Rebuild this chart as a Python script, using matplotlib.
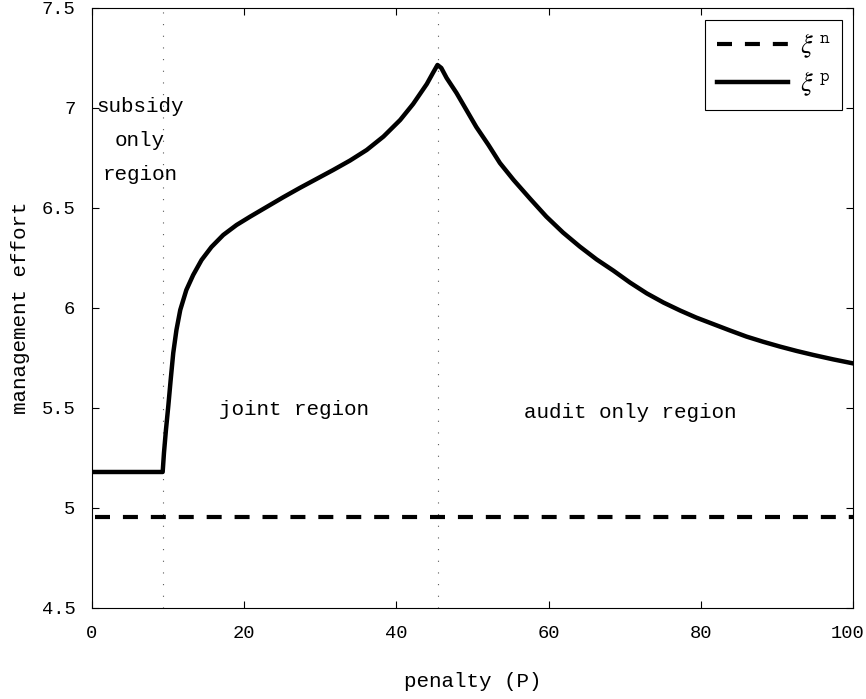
import matplotlib
matplotlib.use('Agg')
from matplotlib import pyplot as plt
import matplotlib.transforms as mtransforms
import numpy as np

# data
penalty_p = [0.35, 9.29, 9.46, 9.72, 10.03, 10.34, 10.68, 11.1, 11.6, 12.4, 13.3, 14.4,
             15.7, 17.25, 19.0, 20.8, 22.95, 25.1, 27.3, 29.5, 31.7, 33.9, 36.1,
             38.3, 40.5, 42.2, 44.0, 44.8, 45.4, 45.9, 46.6, 47.9, 49.2, 50.5, 52.1,
             53.6, 55.4, 57.6, 59.7, 61.9, 64.1, 66.3, 68.5, 70.7, 72.9, 75.1, 77.3,
             79.4, 81.6, 83.8, 86.0, 88.2, 90.4, 92.6, 94.8, 97.4, 100.0]
effort_p = [5.18, 5.18, 5.275, 5.39, 5.51, 5.64, 5.775, 5.89, 5.99, 6.09, 6.165, 6.24,
            6.305, 6.365, 6.415, 6.457, 6.505, 6.553, 6.6, 6.645, 6.69, 6.737, 6.79,
            6.857, 6.94, 7.02, 7.12, 7.175, 7.215, 7.2, 7.15, 7.075, 6.99, 6.905, 6.815,
            6.725, 6.64, 6.545, 6.457, 6.377, 6.307, 6.243, 6.187, 6.127, 6.073, 6.027, 5.987,
            5.952, 5.92, 5.888, 5.857, 5.831, 5.807, 5.785, 5.765, 5.743, 5.723]

penalty_n = [0.35, 100.0]
effort_n = [4.955, 4.955]

region_bounds = [9.3, 45.5]

plt.rcParams['font.family'] = ['Liberation Mono', 'DejaVu Sans']
plt.rcParams['mathtext.fontset'] = 'stix'

fig = plt.figure(figsize=(8.66, 6.99), dpi=100)
ax = fig.add_axes([0.1062, 0.1302, 0.8788, 0.8584])

# region boundaries
for b in region_bounds:
    ax.axvline(b, color='0.35', lw=0.8, linestyle=(0, (1, 9.5)))

ax.plot(penalty_n, effort_n, color='k', lw=3.0, linestyle=(0, (3.6, 3.1)),
        label=r'$\xi^{\;\mathtt{n}}$')
ax.plot(penalty_p, effort_p, color='k', lw=3.2, solid_joinstyle='round',
        label=r'$\xi^{\;\mathtt{p}}$')

ax.text(6.3, 6.835, 'subsidy\nonly\nregion', ha='center', va='center',
        fontsize=15, linespacing=2.0)
ax.text(26.5, 5.49, 'joint region', ha='center', va='center', fontsize=15)
ax.text(70.7, 5.475, 'audit only region', ha='center', va='center', fontsize=15)

ax.set_xlim(0, 100)
ax.set_ylim(4.5, 7.5)
ax.set_xticks([0, 20, 40, 60, 80, 100])
ax.set_yticks([4.5, 5, 5.5, 6, 6.5, 7, 7.5])
ax.set_yticklabels(['4.5', '5', '5.5', '6', '6.5', '7', '7.5'])
ax.tick_params(direction='in', length=5, width=0.8, top=True, right=True,
               labelsize=13.5, pad=12)
for s in ax.spines.values():
    s.set_linewidth(0.8)

# keep the "100" label inside the figure edge
last = ax.get_xticklabels()[-1]
last.set_transform(last.get_transform() +
                   mtransforms.ScaledTranslation(-5 / 100, 0, fig.dpi_scale_trans))

ax.set_xlabel('penalty (P)', fontsize=15, labelpad=22)
ax.set_ylabel('management effort', fontsize=15, labelpad=8)

leg = ax.legend(loc='upper right', bbox_to_anchor=(0.9855, 0.98), fancybox=False,
                edgecolor='k', framealpha=1, fontsize=19, handlelength=2.7,
                handletextpad=0.45, borderpad=0.45, labelspacing=0.35, borderaxespad=0)
leg.get_frame().set_linewidth(0.8)

plt.savefig('out.png', dpi=100)
